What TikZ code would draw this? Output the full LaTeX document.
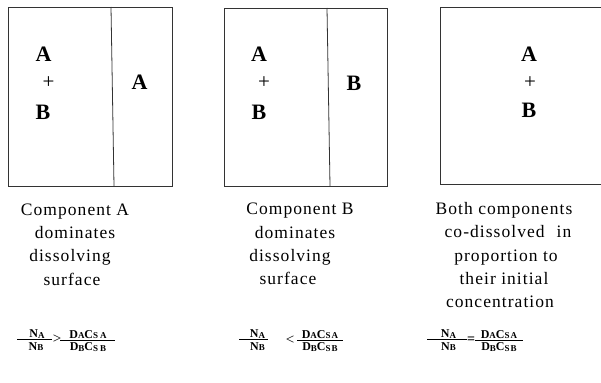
\documentclass[tikz,border=0pt]{standalone}
\usepackage{fontspec}
\setmainfont{Liberation Serif}
\newfontfamily\captfont[LetterSpace=6]{Liberation Serif}
\newfontfamily\eqfont[LetterSpace=12]{Liberation Serif}
\newcommand\sbs[1]{\raisebox{-0.15ex}{\fontsize{9}{10}\selectfont #1}}
\begin{document}
\begin{tikzpicture}[x=1pt,y=-1pt,
  box/.style={draw=black!80, line width=0.8pt},
  big/.style={font=\fontsize{22}{26}\selectfont\bfseries, anchor=base, inner sep=0},
  plus/.style={font=\fontsize{21}{24}\selectfont, anchor=center, inner sep=0},
  capt/.style={font=\captfont\fontsize{17.5}{20}\selectfont, anchor=base, inner sep=0},
  eq/.style={font=\eqfont\fontsize{12}{13}\selectfont\bfseries, anchor=base, inner sep=0},
  rel/.style={font=\fontsize{15}{16}\selectfont, anchor=center, inner sep=0},
  bar/.style={draw=black, line width=0.8pt}]
\useasboundingbox (0,0) rectangle (601,382);
% boxes
\draw[box] (8,7) rectangle (172,186);
\draw[box] (111,7) -- (114,186);
\draw[box] (224,8) rectangle (387,186);
\draw[box] (327,8) -- (330,186);
\draw[box] (601,7) -- (440,7) -- (440,184) -- (601,184);
% box letters
\node[big] (a1) at (43.5,62) {A};
\node[plus] (p1) at (48.5,83) {+};
\node[big] (b1) at (43,120) {B};
\node[big] (a1r) at (139.5,90) {A};
\node[big] (a2) at (259,62) {A};
\node[plus] (p2) at (264,83) {+};
\node[big] (b2) at (259,120) {B};
\node[big] (b2r) at (354,91) {B};
\node[big] (a3) at (529,62) {A};
\node[plus] (p3) at (530,83) {+};
\node[big] (b3) at (529,118) {B};
% captions
\node[capt] (c11) at (75,215) {Component A};
\node[capt] (c12) at (75,238) {dominates};
\node[capt] (c13) at (70,261) {dissolving};
\node[capt] (c14) at (72,285) {surface};
\node[capt] (c21) at (300,214) {Component B};
\node[capt] (c22) at (295,238) {dominates};
\node[capt] (c23) at (290,261) {dissolving};
\node[capt] (c24) at (288,284) {surface};
\node[capt] (c31) at (504,214) {Both components};
\node[capt] (c32) at (508,237) {co-dissolved\hspace{12pt}in};
\node[capt] (c33) at (506,261) {proportion to};
\node[capt] (c34) at (504,284) {their initial};
\node[capt] (c35) at (500,307) {concentration};
% equation 1
\node[eq] (e1n) at (37,337.6) {N\sbs{A}};
\draw[bar] (17,339.6) -- (52,339.6);
\node[eq] (e1d) at (36,350) {N\sbs{B}};
\node[rel] (e1r) at (57,339) {>};
\node[eq] (e1n2) at (88,338) {D\sbs{A}C\sbs{S}\,\sbs{A}};
\draw[bar] (60,340.5) -- (115,340.5);
\node[eq] (e1d2) at (88,350.5) {D\sbs{B}C\sbs{S}\,\sbs{B}};
% equation 2
\node[eq] (e2n) at (257.5,337.6) {N\sbs{A}};
\draw[bar] (239,339.6) -- (268,339.6);
\node[eq] (e2d) at (257.5,350) {N\sbs{B}};
\node[rel] (e2r) at (290,340) {<};
\node[eq] (e2n2) at (320,338) {D\sbs{A}C\sbs{SA}};
\draw[bar] (297,340.5) -- (343,340.5);
\node[eq] (e2d2) at (320,350.5) {D\sbs{B}C\sbs{SB}};
% equation 3
\node[eq] (e3n) at (448.5,337.6) {N\sbs{A}};
\draw[bar] (427,339.6) -- (467,339.6);
\node[eq] (e3d) at (448.5,350) {N\sbs{B}};
\node[rel, font=\fontsize{14}{15}\selectfont\bfseries] (e3r) at (471,340) {=};
\node[eq] (e3n2) at (499,338) {D\sbs{A}C\sbs{SA}};
\draw[bar] (475,340.5) -- (523,340.5);
\node[eq] (e3d2) at (499,350.5) {D\sbs{B}C\sbs{SB}};
\end{tikzpicture}
\end{document}
